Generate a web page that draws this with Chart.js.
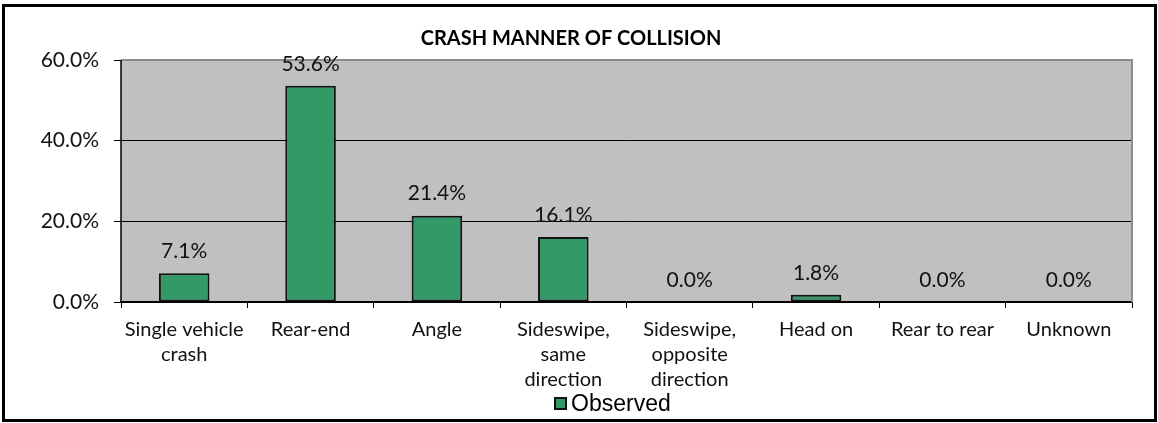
<!DOCTYPE html>
<html>
<head>
<meta charset="utf-8">
<script src="https://cdn.jsdelivr.net/npm/chart.js@4/dist/chart.umd.min.js"></script>
<style>
  html, body { margin: 0; padding: 0; background: #fff; }
  #wrap { position: relative; width: 1158px; height: 423px; }
  #frame { position: absolute; left: 2px; top: 4px; width: 1155px; height: 418px;
           box-sizing: border-box; border: 3px solid #000; pointer-events: none; }
</style>
</head>
<body>
<div id="wrap">
  <canvas id="crashChart" width="1158" height="423"></canvas>
  <div id="frame"></div>
</div>
<script>
// chart data
const categories = [
  ['Single vehicle', 'crash'],
  'Rear-end',
  'Angle',
  ['Sideswipe,', 'same', 'direction'],
  ['Sideswipe,', 'opposite', 'direction'],
  'Head on',
  'Rear to rear',
  'Unknown'
];
const observed = [0.071, 0.536, 0.214, 0.161, 0.0, 0.018, 0.0, 0.0];
const yTicks = [0, 0.2, 0.4, 0.6];
const seriesName = 'Observed';
const barColor = '#339966';

const pct = v => (v * 100).toFixed(1) + '%';

// grey plot background + grey top/right edge
const plotArea = {
  id: 'plotArea',
  beforeDraw(chart) {
    const { ctx, chartArea: a } = chart;
    ctx.save();
    ctx.fillStyle = '#c0c0c0';
    ctx.fillRect(a.left, a.top, a.right - a.left, a.bottom - a.top);
    ctx.restore();
  },
  afterDatasetsDraw(chart) {
    const { ctx, chartArea: a } = chart;
    ctx.save();
    ctx.strokeStyle = '#8c8c8c';
    ctx.lineWidth = 2;
    ctx.beginPath();
    ctx.moveTo(a.left, a.top);
    ctx.lineTo(a.right, a.top);
    ctx.lineTo(a.right, a.bottom);
    ctx.stroke();
    ctx.strokeStyle = '#000';
    ctx.lineWidth = 1.5;
    ctx.beginPath();
    ctx.moveTo(a.left, a.top);
    ctx.lineTo(a.left, a.bottom);
    ctx.stroke();
    ctx.restore();
  }
};

// value labels above bars
const valueLabels = {
  id: 'valueLabels',
  afterDatasetsDraw(chart) {
    const { ctx } = chart;
    const meta = chart.getDatasetMeta(0);
    ctx.save();
    ctx.font = '21px Lato';
    ctx.fillStyle = '#111';
    ctx.textAlign = 'center';
    ctx.textBaseline = 'middle';
    meta.data.forEach((bar, i) => {
      ctx.fillText(pct(observed[i]), bar.x, bar.y - 22);
    });
    ctx.restore();
  }
};

// excel style legend, sits under the plot slightly right of centre
const bottomLegend = {
  id: 'bottomLegend',
  afterDraw(chart) {
    const { ctx } = chart;
    const y = 404;
    ctx.save();
    ctx.fillStyle = barColor;
    ctx.fillRect(555, y - 6, 11, 11);
    ctx.strokeStyle = '#111';
    ctx.lineWidth = 2;
    ctx.strokeRect(555, y - 6, 11, 11);
    ctx.fillStyle = '#000';
    ctx.font = '23px "Liberation Sans"';
    ctx.textBaseline = 'middle';
    ctx.fillText(seriesName, 571, y + 1);
    ctx.restore();
  }
};

const ctx = document.getElementById('crashChart').getContext('2d');
const chart = new Chart(ctx, {
  type: 'bar',
  data: {
    labels: categories,
    datasets: [{
      label: seriesName,
      data: observed,
      backgroundColor: barColor,
      borderColor: '#111',
      borderWidth: 2,
      borderSkipped: false,
      categoryPercentage: 1.0,
      barPercentage: 0.4
    }]
  },
  options: {
    responsive: false,
    animation: false,
    layout: { padding: { left: 10, right: 26, top: 25, bottom: 26 } },
    plugins: {
      title: {
        display: true,
        text: 'CRASH MANNER OF COLLISION',
        color: '#000',
        font: { family: 'Lato', size: 20, weight: 'bold', lineHeight: 1.2 },
        padding: { top: 2, bottom: 9 }
      },
      legend: { display: false },
      tooltip: { enabled: false }
    },
    scales: {
      x: {
        grid: { drawOnChartArea: false, drawTicks: true, tickLength: 6, color: '#000', offset: true },
        border: { color: '#000', width: 1.5 },
        ticks: { color: '#111', font: { family: 'Lato', size: 20, lineHeight: 1.25 }, padding: 9, maxRotation: 0, autoSkip: false },
        afterFit(s) { s.height = 95; }
      },
      y: {
        min: 0,
        max: 0.6,
        afterBuildTicks(s) { s.ticks = yTicks.map(v => ({ value: v })); },
        grid: {
          color: c => (c.tick && c.tick.value === 0.6) ? 'rgba(0,0,0,0)' : '#000',
          tickColor: '#000',
          tickLength: 7,
          lineWidth: 1
        },
        border: { display: false },
        ticks: { color: '#111', font: { family: 'Lato', size: 21 }, padding: 15, callback: v => pct(v) },
        afterFit(s) { s.width = 111; }
      }
    }
  },
  plugins: [plotArea, valueLabels, bottomLegend]
});
</script>
</body>
</html>
